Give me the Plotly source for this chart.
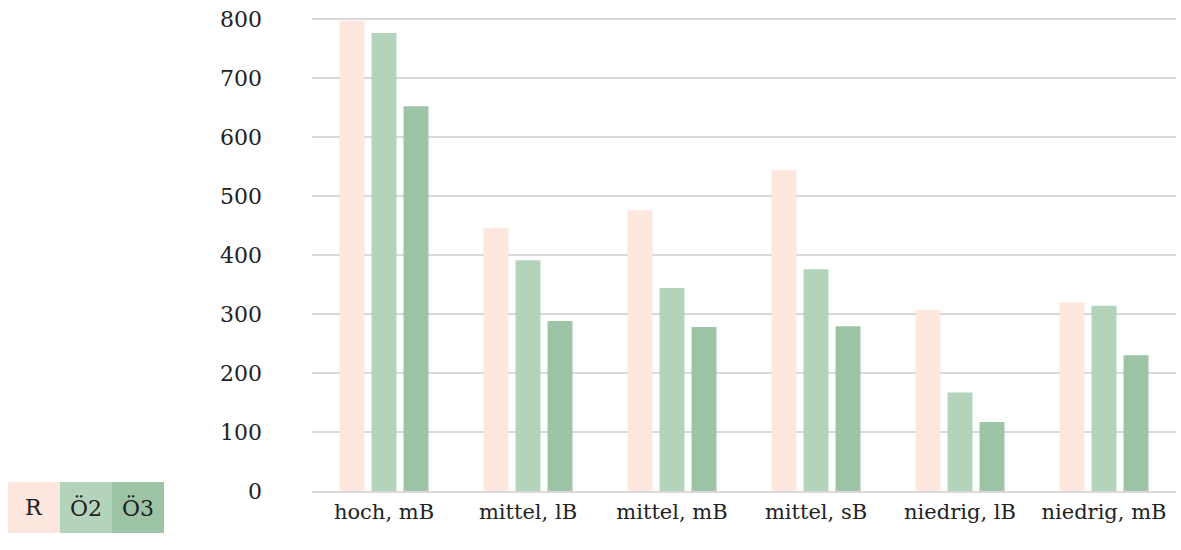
import plotly.graph_objects as go

categories = ["hoch, mB", "mittel, lB", "mittel, mB", "mittel, sB", "niedrig, lB", "niedrig, mB"]
series_names = ["R", "Ö2", "Ö3"]
r_values = [797, 446, 476, 544, 307, 320]
o2_values = [776, 391, 344, 376, 167, 314]
o3_values = [652, 288, 278, 279, 117, 230]
y_ticks = [0, 100, 200, 300, 400, 500, 600, 700, 800]

colors = ["#fde7de", "#b4d3bb", "#9dc4a7"]
FONT = "DejaVu Serif"

W, H = 1181, 550
ML, MR, MT, MB = 312, 5, 16, 59
PW, PH = W - ML - MR, H - MT - MB

fig = go.Figure()
for name, vals, col in zip(series_names, [r_values, o2_values, o3_values], colors):
    fig.add_trace(go.Bar(name=name, x=categories, y=vals, marker_color=col,
                         marker_line_width=0, showlegend=False))

def px_x(px):
    return (px - ML) / PW

def px_y(py):
    return (H - MB - py) / PH

# custom legend: coloured cells with text inside
cell_w = 52
x0 = 8
for i, (name, col) in enumerate(zip(series_names, colors)):
    fig.add_shape(type="rect", xref="paper", yref="paper",
                  x0=px_x(x0 + i * cell_w), x1=px_x(x0 + (i + 1) * cell_w),
                  y0=px_y(533), y1=px_y(482),
                  fillcolor=col, line_width=0, layer="above")
    fig.add_annotation(xref="paper", yref="paper",
                       x=px_x(x0 + i * cell_w + cell_w / 2), y=px_y(507.5),
                       text=name, showarrow=False,
                       font=dict(family=FONT, size=22, color="#222"),
                       xanchor="center", yanchor="middle")

fig.update_layout(
    width=W, height=H,
    margin=dict(l=ML, r=MR, t=MT, b=MB),
    plot_bgcolor="white", paper_bgcolor="white",
    barmode="group", bargap=0.333, bargroupgap=0.22,
    font=dict(family=FONT, size=21, color="#222"),
    xaxis=dict(showgrid=False, showline=True, linecolor="#d9d9d9", linewidth=2,
               ticks="", tickfont=dict(size=21), ticklabelstandoff=1),
    yaxis=dict(range=[0, 805], tickvals=y_ticks, showgrid=True,
               gridcolor="#d9d9d9", gridwidth=2, zeroline=False,
               ticks="", ticklabelstandoff=49, tickfont=dict(size=22)),
)

fig.write_html("out.html", config={"displayModeBar": False},
               post_script="document.body.style.margin='0';")
